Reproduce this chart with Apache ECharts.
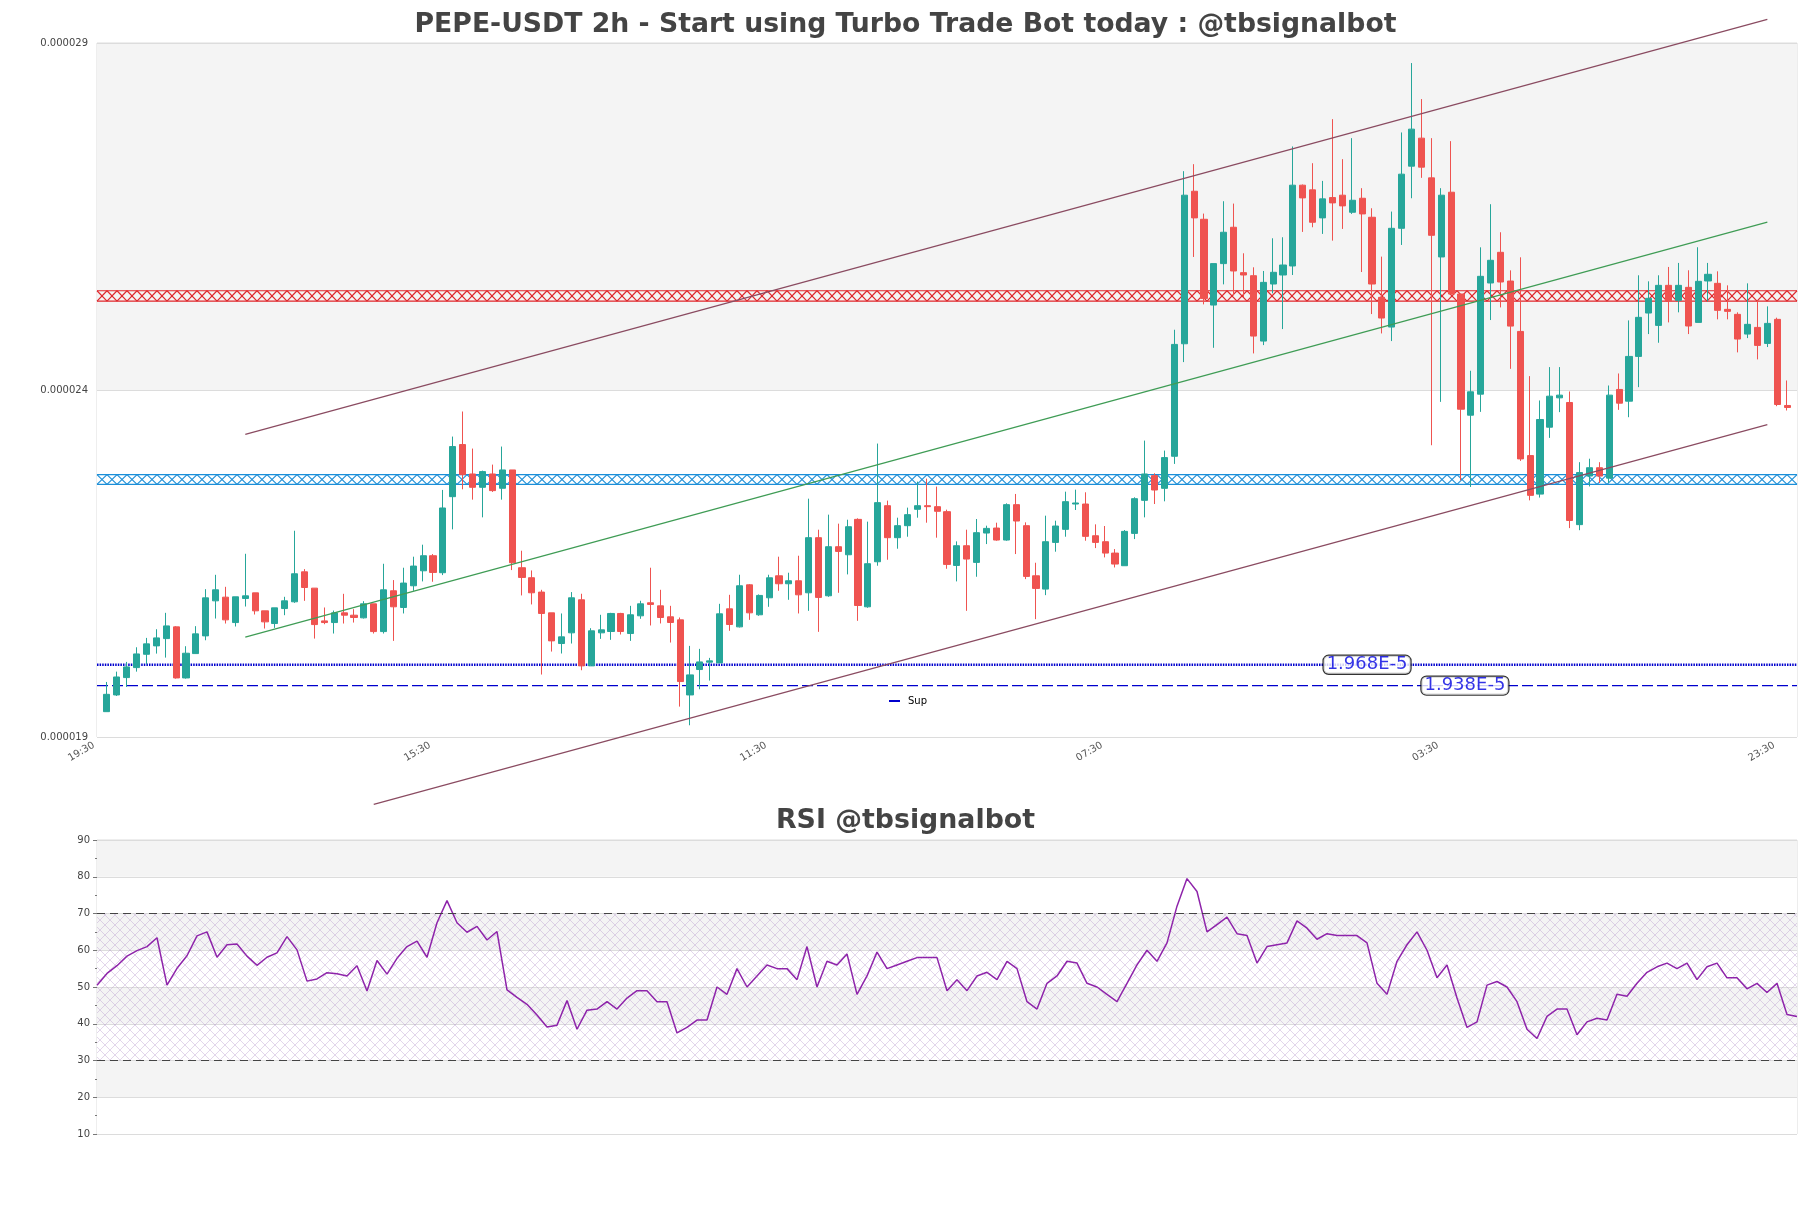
<!DOCTYPE html>
<html><head><meta charset="utf-8">
<script src="https://cdn.jsdelivr.net/npm/echarts@6/dist/echarts.min.js"></script>
<style>html,body{margin:0;padding:0;background:#fff}#c{width:1811px;height:1208px}</style>
</head><body><div id="c"></div>
<script>
// prices in micro-USDT (1e-6)
const PRICE_UNIT = 1e-6;
const open = [19.005,19.246,19.496,19.640,19.832,19.953,20.058,20.227,19.491,19.842,20.097,20.602,20.655,20.289,20.636,20.717,20.458,20.275,20.491,20.588,21.020,20.785,20.313,20.289,20.429,20.395,20.357,20.559,20.159,20.747,20.506,20.819,21.035,21.252,21.007,22.103,22.854,22.430,22.238,22.430,22.224,22.488,21.079,20.935,20.728,20.429,19.987,20.141,20.617,19.665,20.141,20.160,20.420,20.131,20.386,20.574,20.530,20.372,20.328,19.246,19.612,19.718,19.708,20.487,20.227,20.833,20.401,20.646,20.963,20.848,20.891,20.718,21.512,20.675,21.382,21.266,21.776,20.516,21.165,21.973,21.512,21.685,21.921,21.973,21.959,21.887,21.112,21.396,21.156,21.579,21.651,21.478,21.988,21.685,20.963,20.771,21.444,21.632,21.997,21.997,21.540,21.454,21.290,21.108,21.574,22.050,22.406,22.223,22.685,24.306,26.504,26.100,24.864,25.461,25.985,25.331,25.287,24.345,25.167,25.297,25.427,26.591,26.524,26.120,26.413,26.447,26.201,26.403,26.129,24.975,24.547,25.970,26.865,27.269,26.697,25.557,26.490,25.023,23.277,23.580,25.182,25.624,25.210,24.484,22.695,22.140,23.104,23.527,23.460,21.700,22.400,22.520,22.370,23.648,23.479,24.124,24.749,24.571,25.148,24.932,25.119,24.614,25.211,25.177,24.802,24.730,24.446,24.542,24.311,24.658,23.417];
const close = [19.255,19.505,19.650,19.837,19.982,20.068,20.241,19.491,19.847,20.126,20.645,20.761,20.328,20.660,20.674,20.458,20.299,20.501,20.602,20.992,20.794,20.260,20.289,20.429,20.395,20.362,20.559,20.159,20.761,20.516,20.858,21.103,21.252,21.011,21.940,22.825,22.421,22.238,22.464,22.190,22.488,21.151,20.939,20.718,20.420,20.025,20.083,20.646,19.665,20.170,20.184,20.420,20.160,20.401,20.559,20.550,20.362,20.290,19.439,19.535,19.722,19.737,20.415,20.261,20.819,20.429,20.680,20.934,20.848,20.891,20.689,21.512,20.651,21.382,21.314,21.670,20.535,21.137,22.017,21.512,21.685,21.844,21.973,21.959,21.892,21.127,21.396,21.204,21.584,21.646,21.478,21.988,21.752,20.954,20.781,21.454,21.680,22.031,22.012,21.531,21.444,21.290,21.132,21.603,22.074,22.430,22.199,22.666,24.297,26.447,26.120,24.960,25.461,25.913,25.355,25.297,24.417,25.191,25.336,25.441,26.591,26.408,26.057,26.394,26.336,26.293,26.374,26.177,25.167,24.677,25.970,26.750,27.399,26.851,25.869,26.447,25.023,23.363,23.614,25.278,25.509,25.196,24.561,22.647,22.122,23.215,23.551,23.566,21.760,22.450,22.520,22.400,23.566,23.450,24.124,24.687,24.961,25.148,24.927,25.148,24.562,25.206,25.307,24.788,24.773,24.374,24.586,24.283,24.600,23.431,23.388];
const low = [19.005,19.231,19.361,19.582,19.688,19.842,19.784,19.481,19.481,19.842,20.034,20.347,20.275,20.232,20.520,20.405,20.203,20.212,20.395,20.573,20.602,20.058,20.265,20.131,20.275,20.289,20.347,20.131,20.131,20.025,20.420,20.747,20.882,20.877,20.973,21.632,22.209,22.060,21.805,22.171,22.060,21.045,20.680,20.550,19.540,19.871,19.843,19.987,19.602,19.665,20.054,20.040,20.117,20.025,20.343,20.247,20.276,20.001,19.078,18.809,19.328,19.453,19.708,20.170,20.218,20.328,20.386,20.516,20.747,20.617,20.420,20.458,20.155,20.660,20.718,20.983,20.314,20.502,21.108,21.194,21.353,21.526,21.800,21.728,21.512,21.064,20.882,20.458,20.949,21.420,21.468,21.468,21.276,20.915,20.338,20.684,21.310,21.526,21.911,21.468,21.362,21.228,21.083,21.108,21.492,21.805,21.997,22.036,22.575,24.042,25.557,24.874,24.248,25.162,25.004,24.980,24.167,24.287,25.033,24.518,25.297,25.918,25.985,25.889,25.792,25.961,26.177,25.340,24.734,24.455,24.345,25.730,26.403,26.697,22.844,23.469,25.023,22.339,22.243,23.325,24.648,24.830,23.945,22.618,22.050,22.090,22.950,23.321,21.650,21.620,22.250,22.300,22.300,23.354,23.248,23.681,24.446,24.321,24.614,24.759,24.446,24.614,24.917,24.658,24.658,24.182,24.388,24.081,24.259,23.407,23.345];
const high = [19.433,19.582,19.722,19.933,20.068,20.193,20.429,20.237,19.948,20.237,20.770,20.977,20.804,20.660,21.280,20.717,20.458,20.501,20.660,21.612,21.059,20.785,20.506,20.462,20.703,20.482,20.597,20.559,21.136,20.901,21.079,21.238,21.411,21.276,22.200,22.969,23.330,22.796,22.478,22.565,22.825,22.488,21.324,21.040,20.761,20.429,20.420,20.728,20.704,20.208,20.401,20.429,20.429,20.530,20.603,21.079,20.761,20.530,20.362,19.953,19.910,19.780,20.559,20.689,20.978,20.843,20.694,20.978,21.238,21.007,21.252,22.074,21.627,21.844,21.714,21.771,21.791,21.743,22.868,22.046,21.800,21.945,22.320,22.363,22.248,21.916,21.459,21.627,21.781,21.685,21.728,22.007,22.142,21.733,21.151,21.829,21.757,22.175,22.204,22.166,21.704,21.680,21.348,21.622,22.094,22.911,22.440,22.767,24.508,26.793,26.894,26.182,25.461,26.360,26.326,25.610,25.408,25.355,25.826,25.841,27.149,26.601,26.908,26.653,27.543,26.966,27.269,26.548,26.259,25.562,26.211,27.351,28.351,27.832,27.269,26.548,27.226,25.023,23.917,25.696,26.317,25.913,25.364,25.552,23.840,23.489,23.970,23.970,23.619,22.600,22.650,22.600,23.705,23.878,24.643,25.293,25.206,25.293,25.413,25.471,25.365,25.697,25.471,25.350,25.148,24.759,25.177,24.932,24.845,24.682,23.777];
const rsi = [50.5,53.7,55.8,58.4,59.9,61.0,63.4,50.5,55.1,58.5,63.9,65.0,58.1,61.5,61.7,58.4,55.9,58.1,59.3,63.7,60.1,51.6,52.2,53.9,53.6,53.0,55.8,48.9,57.2,53.5,57.8,61.0,62.5,58.1,67.5,73.5,67.5,64.9,66.5,62.8,65.1,49.2,47.2,45.3,42.4,39.1,39.6,46.3,38.5,43.7,44.0,
46,44,47,49,49,46,46,37.5,39,41,41,50,48,55,50,53,56,55,55,52,61,50,57,56,59,48,53,59.5,55,56,57,58,58,58,49,52,49,53,54,52,57,55,46,44,51,53,57,56.5,51,50,48,46,51,56,60,57,62,72,79.5,76,65,67,69,64.5,64,56.5,61,61.5,62,68,66,63,64.5,64,64,64,62,51,48,57,61.5,65,60,52.5,56,47,39,40.5,50.5,51.5,50,46,38.5,36,42,44,44,37,40.5,41.5,41,48,47.5,51,54,55.5,56.5,55,56.5,52,55.5,56.5,52.5,52.5,49.5,51,48.5,51,42.5,42];
const xTickIndex = [0, 34, 68, 102, 136, 170];
const xTickLabels = ['19:30', '15:30', '11:30', '07:30', '03:30', '23:30'];
const priceAxis = {min: 18.64, max: 28.64, step: 5};
const channelUpper = [[14, 23.00], [168, 28.98]];
const channelMid = [[14, 20.08], [168, 26.06]];
const channelLower = [[27, 17.67], [168, 23.14]];
const resistanceZone = [24.92, 25.07];
const supportZone = [22.28, 22.42];
const supDotted = 19.68;
const supDashed = 19.38;
const levelLabelAt = [127.5, 137.4];
const rsiBands = [30, 70];

const FONT = 'DejaVu Sans';
const XMIN = -1, XMAX = 171;
const candles = open.map((o, i) => [i, o, close[i], low[i], high[i]]);
const fmtPrice = v => (v * PRICE_UNIT).toFixed(6);
const fmtLevel = v => (v * PRICE_UNIT).toExponential(3).toUpperCase();

function hatchCanvas() {
  const c = document.createElement('canvas');
  c.width = 10; c.height = 10;
  const g = c.getContext('2d');
  g.strokeStyle = 'rgba(175,140,200,0.45)';
  g.lineWidth = 0.8;
  g.beginPath();
  g.moveTo(0, 0); g.lineTo(10, 10);
  g.moveTo(10, 0); g.lineTo(0, 10);
  g.stroke();
  return c;
}
const zoneColors = ['#e0262b', '#1c8fd8'];
const bandColors = ['#ffffff', '#f4f4f4'];

const chart = echarts.init(document.getElementById('c'));
chart.setOption({
  animation: false,
  backgroundColor: '#fff',
  title: [
    {text: 'PEPE-USDT 2h - Start using Turbo Trade Bot today : @tbsignalbot', left: 'center', top: 7,
     textStyle: {fontFamily: FONT, fontSize: 26.7, fontWeight: 'bold', color: '#444'}},
    {text: 'RSI @tbsignalbot', left: 'center', top: 803,
     textStyle: {fontFamily: FONT, fontSize: 26.8, fontWeight: 'bold', color: '#444'}}
  ],
  legend: {data: ['Sup'], left: 884, top: 691, icon: 'rect', itemWidth: 11, itemHeight: 2, selectedMode: false,
    textStyle: {fontFamily: FONT, fontSize: 10, color: '#000', padding: [0, 0, 0, 3]}},
  grid: [
    {left: 97, top: 43, width: 1700, height: 694, show: true, borderColor: '#dcdcdc', borderWidth: 1, backgroundColor: 'transparent'},
    {left: 97, top: 840, width: 1700, height: 294, show: true, borderColor: '#dcdcdc', borderWidth: 1, backgroundColor: 'transparent'}
  ],
  xAxis: [
    {type: 'value', gridIndex: 0, min: XMIN, max: XMAX, splitLine: {show: false}, axisLine: {show: false}, axisTick: {show: false},
     axisLabel: {customValues: xTickIndex, formatter: v => xTickLabels[xTickIndex.indexOf(Math.round(v))] || '',
       rotate: 30, margin: 0, padding: [0, 15, 0, 0], fontFamily: FONT, fontSize: 10, color: '#555'}},
    {type: 'value', gridIndex: 1, min: 0, max: rsi.length - 1, splitLine: {show: false}, axisLine: {show: false},
     axisTick: {show: false}, axisLabel: {show: false}}
  ],
  yAxis: [
    {type: 'value', gridIndex: 0, min: priceAxis.min, max: priceAxis.max, interval: priceAxis.step,
     axisLine: {show: false}, axisTick: {show: false},
     axisLabel: {formatter: fmtPrice, fontFamily: FONT, fontSize: 10, color: '#444', margin: 9},
     splitLine: {lineStyle: {color: '#dcdcdc', width: 1}},
     splitArea: {show: true, areaStyle: {color: bandColors}}},
    {type: 'value', gridIndex: 1, min: 10, max: 90, interval: 10,
     axisLine: {show: false},
     axisTick: {show: true, length: 4, lineStyle: {color: '#777'}},
     minorTick: {show: true, splitNumber: 2, length: 2, lineStyle: {color: '#777'}},
     axisLabel: {fontFamily: FONT, fontSize: 10, color: '#444', margin: 7},
     splitLine: {lineStyle: {color: '#dcdcdc', width: 1}},
     splitArea: {show: true, areaStyle: {color: bandColors}}}
  ],
  series: [
    {type: 'custom', name: 'zones', xAxisIndex: 0, yAxisIndex: 0, silent: true, z: 1,
     data: [[XMIN, XMAX, resistanceZone[0], resistanceZone[1]], [XMIN, XMAX, supportZone[0], supportZone[1]]],
     encode: {x: [0, 1], y: [2, 3]},
     renderItem: (params, api) => {
       const p0 = api.coord([api.value(0), api.value(3)]);
       const p1 = api.coord([api.value(1), api.value(2)]);
       const left = p0[0], right = p1[0], top = p0[1], bottom = p1[1];
       const style = {stroke: zoneColors[params.dataIndex], lineWidth: 1.15, fill: null};
       const children = [
         {type: 'line', shape: {x1: left, y1: top, x2: right, y2: top}, style},
         {type: 'line', shape: {x1: left, y1: bottom, x2: right, y2: bottom}, style}
       ];
       const step = 10;
       for (let x = left; x < right - 0.5; x += step) {
         const xe = Math.min(x + step, right);
         children.push({type: 'line', shape: {x1: x, y1: top, x2: xe, y2: bottom}, style});
         children.push({type: 'line', shape: {x1: xe, y1: top, x2: x, y2: bottom}, style});
       }
       return {type: 'group', children};
     }},
    {type: 'line', name: 'SupDotted', xAxisIndex: 0, yAxisIndex: 0, symbol: 'none', silent: true, z: 2,
     data: [[XMIN, supDotted], [XMAX, supDotted]],
     lineStyle: {color: '#0000cd', width: 2.4, type: [1.5, 1.1]}},
    {type: 'line', name: 'Sup', xAxisIndex: 0, yAxisIndex: 0, symbol: 'none', silent: true, z: 2,
     data: [[XMIN, supDashed], [XMAX, supDashed]],
     itemStyle: {color: '#0000cd'},
     lineStyle: {color: '#0000cd', width: 1.3, type: [11, 4]}},
    {type: 'candlestick', name: 'PEPE', xAxisIndex: 0, yAxisIndex: 0, z: 3,
     data: candles, encode: {x: 0, y: [1, 2, 3, 4]}, barWidth: 6.6,
     itemStyle: {color: '#26a69a', color0: '#ef5350', borderColor: '#26a69a', borderColor0: '#ef5350', borderWidth: 1}},
    {type: 'line', name: 'upper', xAxisIndex: 0, yAxisIndex: 0, data: channelUpper, clip: false, symbol: 'none', silent: true, z: 4,
     lineStyle: {color: '#8a4b61', width: 1.2}},
    {type: 'line', name: 'mid', xAxisIndex: 0, yAxisIndex: 0, data: channelMid, clip: false, symbol: 'none', silent: true, z: 4,
     lineStyle: {color: '#3f9c55', width: 1.2}},
    {type: 'line', name: 'lower', xAxisIndex: 0, yAxisIndex: 0, data: channelLower, clip: false, symbol: 'none', silent: true, z: 4,
     lineStyle: {color: '#8a4b61', width: 1.2}},
    {type: 'scatter', name: 'levels', xAxisIndex: 0, yAxisIndex: 0, symbolSize: 1, silent: true, z: 6,
     itemStyle: {color: 'rgba(0,0,0,0)'},
     data: [[levelLabelAt[0], supDotted], [levelLabelAt[1], supDashed]],
     label: {show: true, position: 'inside', formatter: p => fmtLevel(p.value[1]),
       fontFamily: FONT, fontSize: 18, color: '#0000e0', backgroundColor: '#fff',
       borderColor: '#000', borderWidth: 1.2, borderRadius: 5, padding: [0, 3, 0, 3]}},
    {type: 'line', name: 'RSI', xAxisIndex: 1, yAxisIndex: 1, symbol: 'none', z: 4,
     data: rsi.map((v, i) => [i, v]),
     lineStyle: {color: '#8e24aa', width: 1.5},
     markArea: {silent: true, itemStyle: {color: {image: hatchCanvas(), repeat: 'repeat'}},
       data: [[{yAxis: rsiBands[0]}, {yAxis: rsiBands[1]}]]},
     markLine: {silent: true, symbol: ['none', 'none'], label: {show: false},
       lineStyle: {color: '#444', width: 1.2, type: [8, 5]},
       data: [{yAxis: rsiBands[1]}, {yAxis: rsiBands[0]}]}}
  ]
});
</script></body></html>
